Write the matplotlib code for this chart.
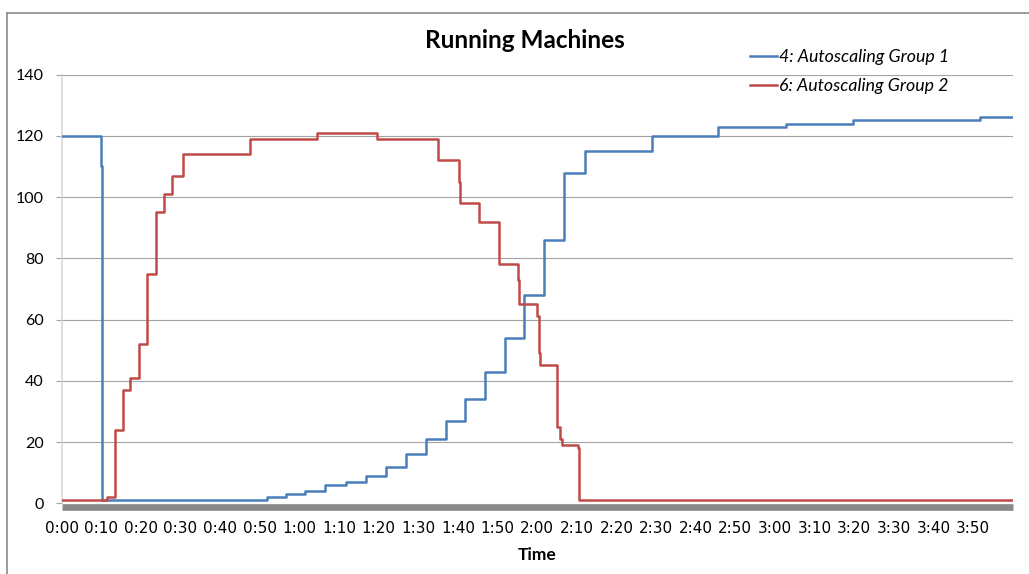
import matplotlib
matplotlib.use("Agg")
import matplotlib.pyplot as plt
from matplotlib.lines import Line2D

# Running machine counts per autoscaling group (time in minutes since start)
g1_minutes = [0, 9.9, 10.2, 51.8, 56.6, 61.5, 66.6, 71.9, 76.8, 81.8, 86.8, 91.9,
              96.9, 101.8, 106.8, 111.9, 116.7, 121.8, 126.8, 132.0, 149.1, 165.7,
              182.7, 199.7, 231.6, 240]
g1_machines = [120, 110, 1, 2, 3, 4, 6, 7, 9, 12, 16, 21,
               27, 34, 43, 54, 68, 86, 108, 115, 120, 123,
               124, 125, 126, 126]

g2_minutes = [0, 11.4, 13.5, 15.4, 17.4, 19.5, 21.6, 23.8, 25.9, 27.9, 30.7, 47.5,
              64.4, 79.7, 94.9, 100.3, 100.5, 105.3, 110.3, 110.5, 115.2, 115.5,
              120.0, 120.4, 120.7, 125.0, 125.7, 126.2, 130.3, 130.6, 240]
g2_machines = [1, 2, 24, 37, 41, 52, 75, 95, 101, 107, 114, 119,
               121, 119, 112, 105, 98, 92, 86, 78, 73, 65,
               61, 49, 45, 25, 21, 19, 18, 1, 1]

series_labels = ["4: Autoscaling Group 1", "6: Autoscaling Group 2"]
series_colors = ["#4A7EBB", "#BE4B48"]

x_ticks = list(range(0, 240, 10))
x_tick_labels = ["0:00", "0:10", "0:20", "0:30", "0:40", "0:50",
                 "1:00", "1:10", "1:20", "1:30", "1:40", "1:50",
                 "2:00", "2:10", "2:20", "2:30", "2:40", "2:50",
                 "3:00", "3:10", "3:20", "3:30", "3:40", "3:50"]
y_ticks = [0, 20, 40, 60, 80, 100, 120, 140]

FONT = "Lato"
W, H = 1029, 574
fig = plt.figure(figsize=(W / 100, H / 100), dpi=100)
fig.patch.set_facecolor("white")

# plot area in pixel coordinates
left_px, right_px, top_px, bottom_px = 61.5, 1012.8, 74.5, 503.3
ax = fig.add_axes([left_px / W, 1 - bottom_px / H,
                   (right_px - left_px) / W, (bottom_px - top_px) / H])

ax.plot(g1_minutes, g1_machines, drawstyle="steps-post", color=series_colors[0],
        lw=1.8, label=series_labels[0], zorder=3)
ax.plot(g2_minutes, g2_machines, drawstyle="steps-post", color=series_colors[1],
        lw=1.8, label=series_labels[1], zorder=4)

ax.set_xlim(0, 240)
ax.set_ylim(0, 140)

grid_color = "#A3A3A3"
ax.set_yticks(y_ticks)
ax.yaxis.grid(True, color=grid_color, lw=0.8)
ax.set_axisbelow(True)
ax.tick_params(axis="y", length=4.3, width=0.8, color=grid_color, pad=8.5,
               labelsize=11.5, labelcolor="black")
ax.set_xticks(x_ticks)
ax.set_xticklabels(x_tick_labels)
ax.tick_params(axis="x", length=0, pad=10.5, labelsize=11, labelcolor="black")
for lbl in ax.get_xticklabels() + ax.get_yticklabels():
    lbl.set_fontfamily(FONT)

for side in ("top", "right"):
    ax.spines[side].set_visible(False)
ax.spines["left"].set_color("#D4D4D4")
ax.spines["left"].set_linewidth(1.1)
ax.spines["bottom"].set_color("#898989")
ax.spines["bottom"].set_linewidth(4.8)
ax.spines["bottom"].set_capstyle("butt")
ax.spines["bottom"].set_position(("outward", 2.4))

ax.set_xlabel("Time", fontfamily=FONT, fontweight="bold", fontsize=12.5, labelpad=8)

fig.text(0.5097, 1 - 40 / H, "Running Machines", fontfamily=FONT, fontweight="bold",
         fontsize=17.5, ha="center", va="center")

leg = ax.legend(loc="upper left", bbox_to_anchor=(750 / W, 1 - 49 / H),
                bbox_transform=fig.transFigure, frameon=False,
                prop={"family": FONT, "style": "italic", "size": 12.8},
                handlelength=1.5, handletextpad=0.12, labelspacing=0.75,
                borderaxespad=0, borderpad=0)

# outer chart frame
frame_kw = dict(color="#8A8A8A", lw=1.2, transform=fig.transFigure)
fig.add_artist(Line2D([7 / W, 1.0], [1 - 12.8 / H, 1 - 12.8 / H], **frame_kw))
fig.add_artist(Line2D([7 / W, 7 / W], [1 - 12.8 / H, 0.0], **frame_kw))

fig.savefig("out.png", dpi=100)
